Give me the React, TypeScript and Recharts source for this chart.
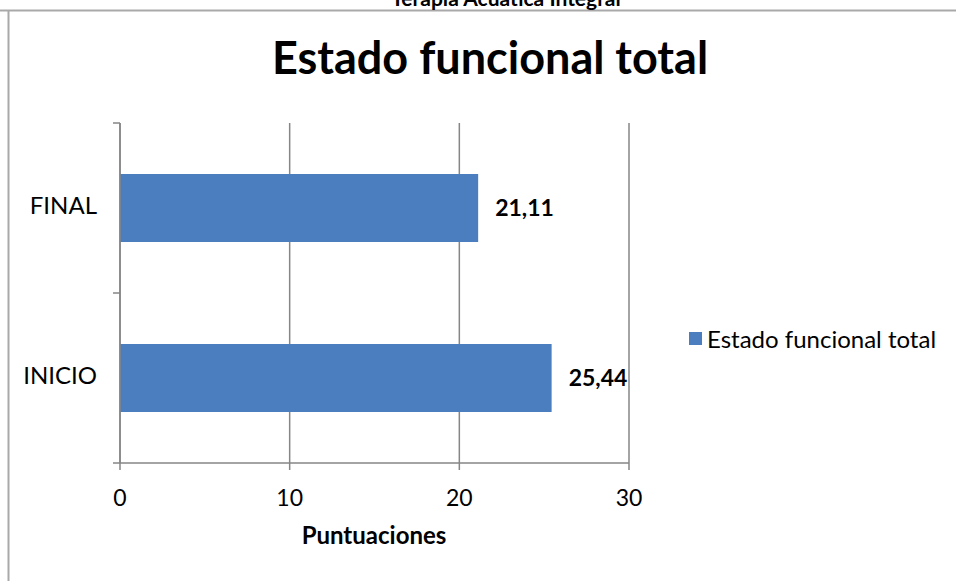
import { BarChart, Bar, XAxis, YAxis, CartesianGrid, Legend, LabelList } from 'recharts';

const categories = ['FINAL', 'INICIO'];
const scores = [21.11, 25.44];
const xTicks = [0, 10, 20, 30];

const seriesName = 'Estado funcional total';
const data = categories.map((c, i) => ({ name: c, value: scores[i] }));

const font = 'Lato, "Open Sans", sans-serif';
const axisGray = '#868686';
const barBlue = '#4A7EBF';

const fmt = (v: any) => Number(v).toFixed(2).replace('.', ',');

// category tick label plus Excel-style tick marks on band edges
const CatTick = (props: any) => {
  const { x, y, payload, index, visibleTicksCount } = props;
  const axisX = x + 23;
  const half = payload.offset || 0;
  return (
    <g>
      <line x1={axisX - 7} x2={axisX} y1={y - half} y2={y - half} stroke={axisGray} strokeWidth={1.5} />
      {index === visibleTicksCount - 1 && (
        <line x1={axisX - 7} x2={axisX} y1={y + half} y2={y + half} stroke={axisGray} strokeWidth={1.5} />
      )}
      <text x={x} y={y} textAnchor="end" dominantBaseline="middle" fontSize={24} fill="#000" fontFamily={font}>
        {payload.value}
      </text>
    </g>
  );
};

const LegendBox = () => (
  <div style={{ display: 'flex', alignItems: 'center', fontFamily: font, fontSize: 24, color: '#000', whiteSpace: 'nowrap' }}>
    <span style={{ width: 13, height: 13, background: barBlue, marginRight: 5, display: 'inline-block' }} />
    {seriesName}
  </div>
);

export default function App() {
  return (
    <div style={{ position: 'absolute', left: 0, top: 0, width: 956, height: 581, background: '#fff', overflow: 'hidden' }}>
      <BarChart
        width={956}
        height={581}
        data={data}
        layout="vertical"
        margin={{ top: 123, right: 327, bottom: 58, left: 0 }}
        barCategoryGap="30%"
      >
        <line x1={0} x2={956} y1={10.5} y2={10.5} stroke="#a9a9a9" strokeWidth={2} />
        <line x1={8.5} x2={8.5} y1={10} y2={581} stroke="#a9a9a9" strokeWidth={2} />
        <text x={506} y={6} textAnchor="middle" fontSize={21} fontWeight="bold" fontFamily={font} fill="#000">
          Terapia Acuática Integral
        </text>
        <text x={490} y={62} textAnchor="middle" dominantBaseline="middle" fontSize={45} fontWeight="bold" fontFamily={font} fill="#000">
          {seriesName}
        </text>
        <text x={374} y={538} textAnchor="middle" dominantBaseline="middle" fontSize={24} fontWeight="bold" fontFamily={font} fill="#000">
          Puntuaciones
        </text>
        <CartesianGrid horizontal={false} stroke={axisGray} strokeWidth={1.5} />
        <XAxis
          type="number"
          domain={[0, 30]}
          ticks={xTicks}
          height={60}
          tickSize={7}
          tickMargin={20}
          axisLine={{ stroke: axisGray, strokeWidth: 1.5 }}
          tickLine={{ stroke: axisGray, strokeWidth: 1.5 }}
          tick={{ fontSize: 23, fill: '#000', fontFamily: font }}
        />
        <YAxis
          type="category"
          dataKey="name"
          width={120}
          tickSize={7}
          tickMargin={16}
          tickLine={false}
          axisLine={{ stroke: axisGray, strokeWidth: 1.5 }}
          tick={<CatTick />}
        />
        <Legend
          layout="vertical"
          verticalAlign="middle"
          align="center"
          wrapperStyle={{ left: 689, top: 324, width: 267 }}
          content={<LegendBox />}
        />
        <Bar dataKey="value" name={seriesName} fill={barBlue} isAnimationActive={false}>
          <LabelList
            dataKey="value"
            position="right"
            offset={17}
            formatter={fmt}
            style={{ fontSize: 23, fontWeight: 'bold', fill: '#000', fontFamily: font }}
          />
        </Bar>
      </BarChart>
    </div>
  );
}
